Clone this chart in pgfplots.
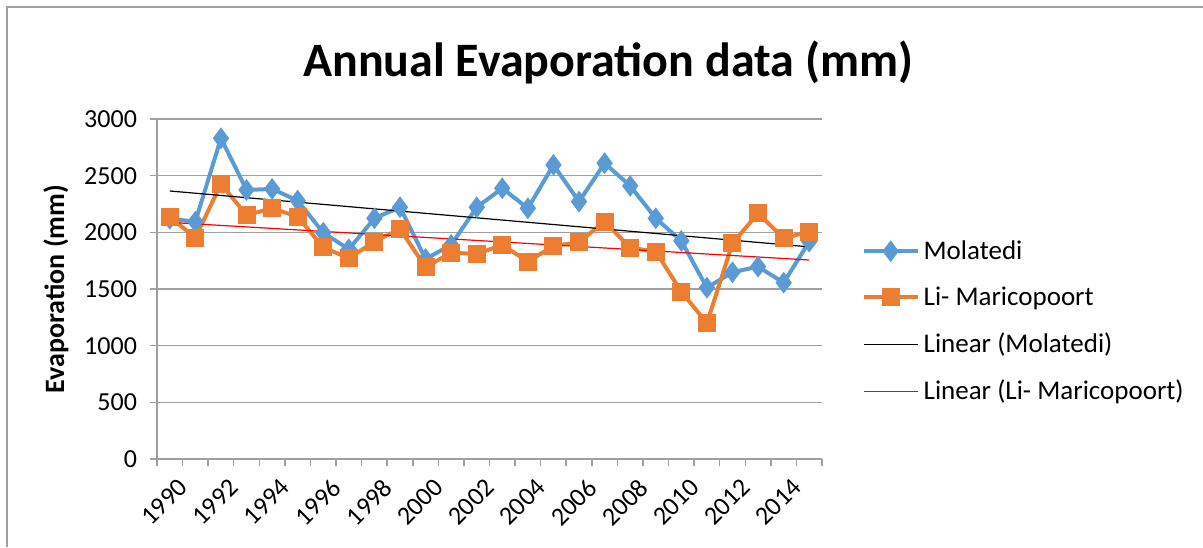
\documentclass[border=0pt]{standalone}
\usepackage{fontspec}
\setmainfont{Carlito}
\usepackage{pgfplots}
\usepackage{pgfplotstable}
\pgfplotsset{compat=1.18}

\definecolor{molblue}{HTML}{5B9BD5}
\definecolor{limorange}{HTML}{ED7D31}
\definecolor{axisgray}{HTML}{9F9F9F}

% annual evaporation, mm
\pgfplotstableread{
year mol  lim
1990 2120 2135
1991 2094 1953
1992 2830 2427
1993 2374 2153
1994 2383 2212
1995 2280 2138
1996 1997 1868
1997 1851 1771
1998 2124 1918
1999 2221 2030
2000 1765 1692
2001 1889 1821
2002 2221 1809
2003 2389 1889
2004 2212 1742
2005 2595 1880
2006 2271 1913
2007 2610 2095
2008 2410 1865
2009 2124 1830
2010 1924 1477
2011 1512 1198
2012 1648 1904
2013 1697 2168
2014 1556 1948
2015 1918 2006
}\evap

\begin{document}
\begin{tikzpicture}
\path[use as bounding box] (0,0) rectangle (601.5pt,-273.5pt);
\draw[axisgray, line width=1pt] (3.5pt,-273.5pt) -- (3.5pt,-3.5pt) -- (601.5pt,-3.5pt);
\node[font=\bfseries\fontsize{24}{29}\selectfont] at (304pt,-31pt) {Annual Evaporation data (mm)};
\begin{axis}[
    at={(78.5pt,-229.5pt)}, anchor=south west,
    scale only axis, width=332.5pt, height=170pt,
    xmin=1989.5, xmax=2015.5, ymin=0, ymax=3000,
    xtick={1990,1992,...,2014},
    minor xtick={1989.5,1990.5,...,2015.5},
    major x tick style={draw=none},
    ytick={0,500,...,3000},
    tick align=outside, major tick length=3.5pt, minor tick length=3.5pt,
    axis x line*=bottom, axis y line*=left,
    axis line style={axisgray, line width=0.75pt},
    tick style={axisgray, line width=0.75pt},
    ymajorgrids, grid style={axisgray, line width=0.75pt},
    /pgf/number format/assume math mode=true,
    /pgf/number format/1000 sep={},
    xticklabel style={rotate=45, anchor=north east, font=\fontsize{13}{15}\selectfont, xshift=2pt, yshift=-3pt},
    yticklabel style={font=\fontsize{13}{15}\selectfont, xshift=-3pt},
    ylabel={Evaporation (mm)},
    ylabel style={font=\bfseries\fontsize{14}{16}\selectfont, at={(axis description cs:-0.152,0.5)}, anchor=center},
    legend style={at={(1.05,0.404)}, anchor=west, draw=none, fill=none,
        font=\fontsize{13.5}{16}\selectfont, row sep=8.3pt},
    legend cell align=left,
    legend image code/.code={\draw[mark repeat=2,mark phase=2,#1] plot coordinates {(0pt,0pt) (13.5pt,0pt) (27pt,0pt)};},
]
\addplot[molblue, line width=2pt, mark=diamond*, mark size=3.8pt] table[x=year, y=mol] {\evap};
\addlegendentry{Molatedi}
\addplot[limorange, line width=2pt, mark=square*, mark size=3.5pt] table[x=year, y=lim] {\evap};
\addlegendentry{Li- Maricopoort}
\addplot[black, line width=0.6pt] table[x=year, y={create col/linear regression={y=mol}}] {\evap};
\addlegendentry{Linear (Molatedi)}
\addplot[red, line width=0.6pt] table[x=year, y={create col/linear regression={y=lim}}] {\evap};
\addlegendentry{Linear (Li- Maricopoort)}
\end{axis}
\end{tikzpicture}
\end{document}
